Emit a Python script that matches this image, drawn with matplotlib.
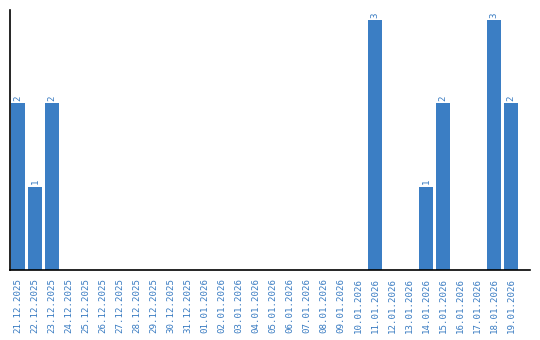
import matplotlib
matplotlib.use("Agg")
import matplotlib.pyplot as plt

# ============= data =============================
dates = ['21.12.2025', '22.12.2025', '23.12.2025', '24.12.2025', '25.12.2025',
         '26.12.2025', '27.12.2025', '28.12.2025', '29.12.2025', '30.12.2025',
         '31.12.2025', '01.01.2026', '02.01.2026', '03.01.2026', '04.01.2026',
         '05.01.2026', '06.01.2026', '07.01.2026', '08.01.2026', '09.01.2026',
         '10.01.2026', '11.01.2026', '12.01.2026', '13.01.2026', '14.01.2026',
         '15.01.2026', '16.01.2026', '17.01.2026', '18.01.2026', '19.01.2026']
counts = [2, 1, 2, 0, 0, 0, 0, 0, 0, 0,
          0, 0, 0, 0, 0, 0, 0, 0, 0, 0,
          0, 3, 0, 0, 1, 2, 0, 0, 3, 2]

BAR_COLOR = '#3b7ec4'
TEXT_COLOR = '#3a7cc2'
FONT = 'DejaVu Sans Mono'

# ============= plot =============================
fig = plt.figure(figsize=(5.4, 3.4), dpi=100)
ax = fig.add_axes([10/540, 1 - 270/340, 520/540, 260/340])

x = list(range(len(dates)))
ax.bar(x, counts, width=0.82, color=BAR_COLOR)

for xi, c in zip(x, counts):
    if c > 0:
        ax.text(xi, c + 0.03, str(c), rotation=90, ha='center', va='bottom',
                fontsize=6.6, color=TEXT_COLOR, family=FONT)

ax.set_xlim(-0.47, 30.1)
ax.set_ylim(0, 3.12)
ax.set_xticks(x)
ax.set_xticklabels(dates, rotation=90, fontsize=6.6, color=TEXT_COLOR, family=FONT)
ax.tick_params(axis='x', length=0, pad=6)
ax.set_yticks([])

for side in ['top', 'right']:
    ax.spines[side].set_visible(False)
ax.spines['left'].set_linewidth(1.2)
ax.spines['bottom'].set_linewidth(1.2)

fig.savefig("out.png", dpi=100)
